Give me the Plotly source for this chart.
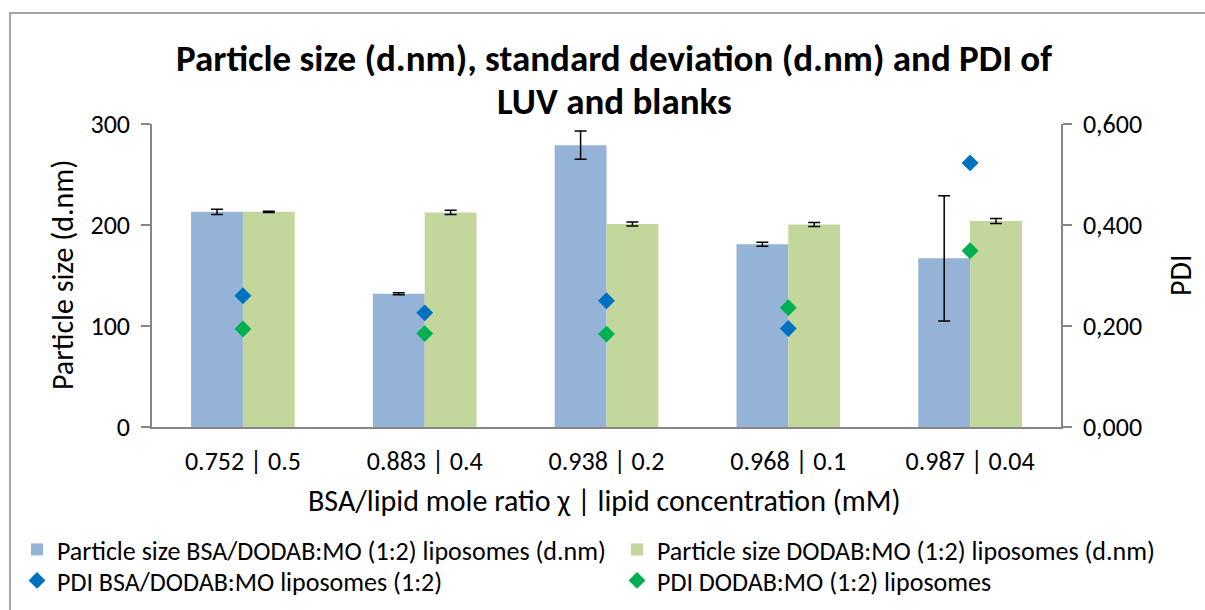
import plotly.graph_objects as go

# Categories: BSA/lipid mole ratio | lipid concentration (mM)
categories = ["0.752 | 0.5", "0.883 | 0.4", "0.938 | 0.2", "0.968 | 0.1", "0.987 | 0.04"]

# Particle size (d.nm) and standard deviation
size_bsa = [213, 132, 279, 181, 167]
size_bsa_sd = [2.5, 1.0, 14, 2.0, 62]
size_blank = [213, 212.5, 201, 200.5, 204]
size_blank_sd = [0.6, 2.0, 2.0, 2.0, 2.5]

# Polydispersity index
pdi_bsa = [0.260, 0.226, 0.250, 0.195, 0.523]
pdi_blank = [0.194, 0.185, 0.184, 0.236, 0.349]

pdi_tickvals = [0, 0.2, 0.4, 0.6]
pdi_ticktext = ["0,000", "0,200", "0,400", "0,600"]

title_lines = ["Particle size (d.nm), standard deviation (d.nm) and PDI of", "LUV and blanks"]

FONT = "Carlito, Lato, 'Liberation Sans', sans-serif"
AXIS_GREY = "#868686"
TXT = 26
AXIS_TITLE = 30

W, H = 1205, 610
ML, MR, MT, MB = 152, 144, 124, 183
PW, PH = W - ML - MR, H - MT - MB


def px_x(px):
    return (px - ML) / PW


def px_y(py):
    return (H - MB - py) / PH


fig = go.Figure()

# Each legend entry sits in its own legend box, laid out as a 2 x 2 grid
fig.add_trace(go.Bar(
    x=categories, y=size_bsa, name="Particle size BSA/DODAB:MO (1:2) liposomes (d.nm)",
    marker=dict(color="#95B3D7", line=dict(width=0)), legend="legend", showlegend=True,
    error_y=dict(type="data", array=size_bsa_sd, color="black", thickness=1.5, width=6),
))
fig.add_trace(go.Bar(
    x=categories, y=size_blank, name="Particle size DODAB:MO (1:2) liposomes (d.nm)",
    marker=dict(color="#C3D69B", line=dict(width=0)), legend="legend2", showlegend=True,
    error_y=dict(type="data", array=size_blank_sd, color="black", thickness=1.5, width=6),
))
fig.add_trace(go.Scatter(
    x=categories, y=pdi_bsa, name="PDI BSA/DODAB:MO liposomes (1:2)", yaxis="y2",
    mode="markers", marker=dict(symbol="diamond", size=13, color="#0070C0"),
    legend="legend3", showlegend=True,
))
fig.add_trace(go.Scatter(
    x=categories, y=pdi_blank, name="PDI DODAB:MO (1:2) liposomes", yaxis="y2",
    mode="markers", marker=dict(symbol="diamond", size=13, color="#00B050"),
    legend="legend4", showlegend=True,
))

legend_style = dict(
    orientation="v", yanchor="top", xanchor="left", traceorder="normal",
    font=dict(size=TXT), bgcolor="rgba(0,0,0,0)", tracegroupgap=0, visible=True,
)
COL1, COL2 = 17, 617
ROW1, ROW2 = 526, 557

fig.update_layout(
    width=W, height=H,
    margin=dict(l=ML, r=MR, t=MT, b=MB, autoexpand=False),
    paper_bgcolor="white", plot_bgcolor="white",
    font=dict(family=FONT, size=TXT, color="black"),
    showlegend=True,
    barmode="group", bargap=0.43, bargroupgap=0,
    xaxis=dict(
        showline=True, linecolor=AXIS_GREY, linewidth=1.5,
        ticks="", showgrid=False, tickfont=dict(size=TXT),
        ticklabelstandoff=10,
    ),
    yaxis=dict(
        range=[0, 300], dtick=100, showgrid=False, zeroline=False,
        showline=True, linecolor=AXIS_GREY, linewidth=1.5,
        ticks="outside", ticklen=9, tickcolor=AXIS_GREY, tickwidth=1.5,
        tickfont=dict(size=TXT), ticklabelstandoff=6,
    ),
    yaxis2=dict(
        range=[0, 0.6], overlaying="y", side="right", showgrid=False, zeroline=False,
        tickvals=pdi_tickvals, ticktext=pdi_ticktext,
        showline=True, linecolor=AXIS_GREY, linewidth=1.5,
        ticks="outside", ticklen=9, tickcolor=AXIS_GREY, tickwidth=1.5,
        tickfont=dict(size=TXT), ticklabelstandoff=6,
    ),
    legend=dict(x=px_x(COL1), y=px_y(ROW1), **legend_style),
    legend2=dict(x=px_x(COL2), y=px_y(ROW1), **legend_style),
    legend3=dict(x=px_x(COL1), y=px_y(ROW2), **legend_style),
    legend4=dict(x=px_x(COL2), y=px_y(ROW2), **legend_style),
    shapes=[dict(
        type="rect", xref="paper", yref="paper",
        x0=px_x(10), x1=px_x(1215), y0=px_y(620), y1=px_y(13),
        line=dict(color=AXIS_GREY, width=1.5), fillcolor="rgba(0,0,0,0)", layer="below",
    )],
    annotations=[
        dict(text="<b>%s</b>" % title_lines[0], xref="paper", yref="paper",
             x=px_x(614), y=px_y(58), xanchor="center", yanchor="middle",
             showarrow=False, font=dict(size=37)),
        dict(text="<b>%s</b>" % title_lines[1], xref="paper", yref="paper",
             x=px_x(614), y=px_y(101), xanchor="center", yanchor="middle",
             showarrow=False, font=dict(size=37)),
        dict(text="Particle size (d.nm)", textangle=-90, xref="paper", yref="paper",
             x=px_x(62), y=px_y(275), xanchor="center", yanchor="middle",
             showarrow=False, font=dict(size=AXIS_TITLE)),
        dict(text="PDI", textangle=-90, xref="paper", yref="paper",
             x=px_x(1180), y=px_y(275), xanchor="center", yanchor="middle",
             showarrow=False, font=dict(size=AXIS_TITLE)),
        dict(text="BSA/lipid mole ratio χ | lipid concentration (mM)", xref="paper", yref="paper",
             x=px_x(604), y=px_y(500), xanchor="center", yanchor="middle",
             showarrow=False, font=dict(size=AXIS_TITLE)),
    ],
)

fig.write_html("out.html")
